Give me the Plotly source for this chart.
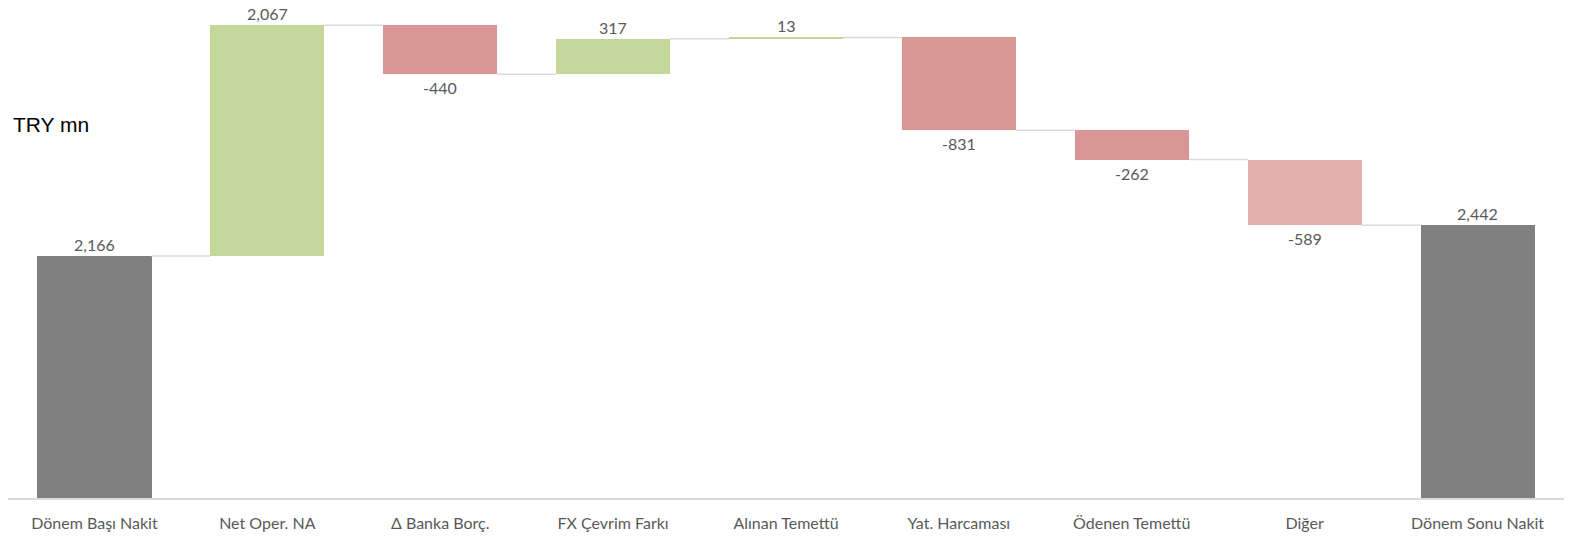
import plotly.graph_objects as go

categories = ["Dönem Başı Nakit", "Net Oper. NA", "Δ Banka Borç.", "FX Çevrim Farkı",
              "Alınan Temettü", "Yat. Harcaması", "Ödenen Temettü", "Diğer", "Dönem Sonu Nakit"]
values = [2166, 2067, -440, 317, 13, -831, -262, -589, 2442]
kinds = ["total", "delta", "delta", "delta", "delta", "delta", "delta", "delta", "total"]
colors = ["#808080", "#C4D79B", "#DA9694", "#C4D79B", "#C4D79B", "#DA9694", "#DA9694", "#E6B0AF", "#808080"]

# compute bases and tops
bases, heights, ends = [], [], []
cum = 0
for v, k in zip(values, kinds):
    if k == "total":
        bases.append(0)
        heights.append(v)
        cum = v
    else:
        start = cum
        cum = cum + v
        bases.append(min(start, cum))
        heights.append(abs(v))
    ends.append(cum)

xs = list(range(len(categories)))
bw = 0.66
lab_font = dict(family="Lato, Carlito, sans-serif", size=16, color="#595959")

fig = go.Figure()
# connectors
for i in range(len(xs) - 1):
    fig.add_trace(go.Scatter(x=[xs[i] + bw / 2, xs[i + 1] - bw / 2], y=[ends[i], ends[i]],
                             mode="lines", line=dict(color="#d9d9d9", width=1.5),
                             hoverinfo="skip", showlegend=False))

fig.add_trace(go.Bar(x=xs, y=heights, base=bases, width=bw, marker=dict(color=colors, line=dict(width=0)),
                     showlegend=False, hoverinfo="skip"))

# labels
for i, (v, b, h) in enumerate(zip(values, bases, heights)):
    if v >= 0:
        fig.add_annotation(x=xs[i], y=b + h, text=f"{v:,}", showarrow=False, yanchor="bottom",
                           yshift=0, font=lab_font)
    else:
        fig.add_annotation(x=xs[i], y=b, text=f"{v:,}", showarrow=False, yanchor="top",
                           yshift=-2, font=lab_font)

fig.add_annotation(text="TRY mn", xref="paper", yref="paper", x=0.0, y=0.75, xanchor="left", yanchor="middle",
                   xshift=3, showarrow=False,
                   font=dict(family="Arial, Liberation Sans, sans-serif", size=21, color="#000000"))

fig.update_layout(
    width=1572, height=538,
    margin=dict(l=8, r=8, t=0, b=40),
    plot_bgcolor="white", paper_bgcolor="white",
    xaxis=dict(tickvals=xs, ticktext=categories, range=[-0.5, len(xs) - 0.5],
               showline=True, linecolor="#d9d9d9", linewidth=1.5, ticks="", showgrid=False, zeroline=False,
               ticklabelstandoff=10, tickfont=lab_font),
    yaxis=dict(range=[0, 4458], visible=False, showgrid=False, zeroline=False),
    bargap=0,
)

fig.write_html("out.html")
